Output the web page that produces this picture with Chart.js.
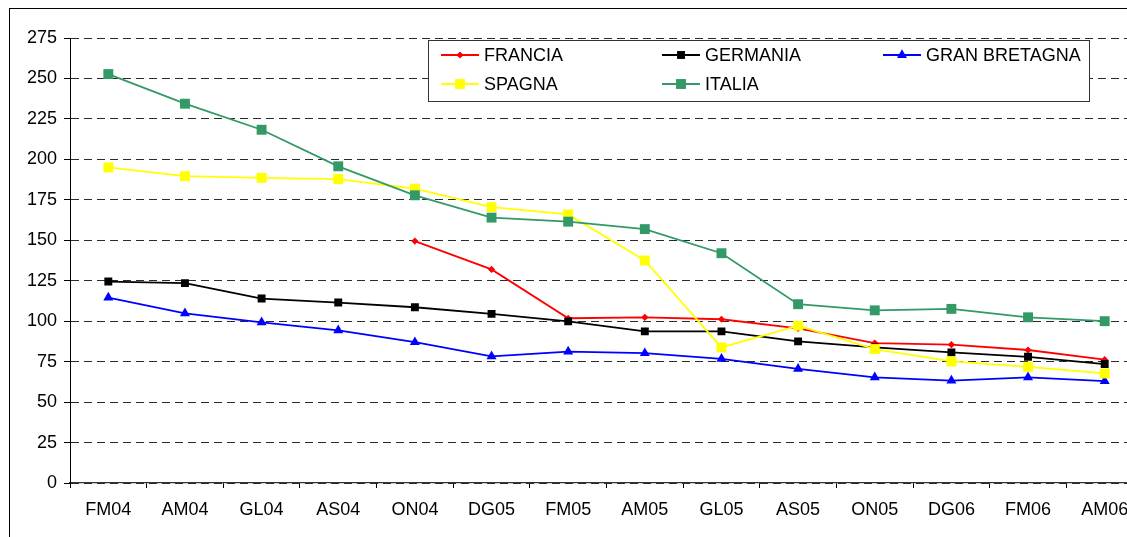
<!DOCTYPE html>
<html>
<head>
<meta charset="utf-8">
<script src="https://cdn.jsdelivr.net/npm/chart.js@4/dist/chart.umd.min.js"></script>
<style>
    html, body { margin: 0; padding: 0; background: #fff; overflow: hidden; }
    #grafico { display: block; }
</style>
</head>
<body>
<canvas id="grafico" width="1180" height="537"></canvas>
<script>

const periodi = ["FM04", "AM04", "GL04", "AS04", "ON04", "DG05", "FM05", "AM05", "GL05", "AS05", "ON05", "DG06", "FM06", "AM06"];

const francia = [null, null, null, null, 149.5, 132, 101.8, 102.4, 101.2, 95.5, 86.5, 85.5, 82.2, 76.2];
const germania = [124.5, 123.5, 114, 111.5, 108.6, 104.5, 99.9, 93.7, 93.7, 87.5, 83.8, 80.7, 78, 73.5];
const granBretagna = [114.6, 104.8, 99.3, 94.3, 87, 78.3, 81.2, 80.2, 76.7, 70.5, 65.3, 63.3, 65.3, 63];
const spagna = [195, 189.6, 188.6, 187.8, 181.9, 170.5, 166, 137.5, 83.8, 97.2, 82.8, 75.1, 71.8, 67.7];
const italia = [252.7, 234.4, 218.3, 195.7, 177.8, 164, 161.5, 156.9, 142, 110.5, 106.7, 107.6, 102.4, 100];

const yTicks = [0, 25, 50, 75, 100, 125, 150, 175, 200, 225, 250, 275];

const FONT = "'Liberation Sans', Arial, sans-serif";

function serie(label, data, color, style, radius, order) {
    return {
        label: label,
        data: data,
        borderColor: color,
        backgroundColor: color,
        pointBackgroundColor: color,
        pointBorderColor: color,
        pointBorderWidth: 0,
        pointStyle: style,
        pointRadius: radius,
        pointHoverRadius: radius,
        borderWidth: 1.8,
        tension: 0,
        spanGaps: false,
        order: order
    };
}

const datasets = [
    serie("FRANCIA", francia, "#ff0000", "rectRot", 3.6, 5),
    serie("GERMANIA", germania, "#000000", "rect", 5.6, 4),
    serie("GRAN BRETAGNA", granBretagna, "#0000ff", "triangle", 5.8, 3),
    serie("SPAGNA", spagna, "#ffff00", "rect", 7, 2),
    serie("ITALIA", italia, "#339966", "rect", 7, 1)
];

// legenda e cornice disegnate a mano
const legenda = {
    id: "legenda",
    afterDraw(chart) {
        const ctx = chart.ctx;
        ctx.save();

        ctx.strokeStyle = "#000";
        ctx.lineWidth = 1;
        ctx.strokeRect(9.5, 8.5, 3000, 3000);

        ctx.fillStyle = "#fff";
        ctx.fillRect(428.5, 40.5, 661, 61);
        ctx.strokeStyle = "#333";
        ctx.strokeRect(428.5, 40.5, 661, 61);

        const colX = [441, 662, 883];
        const rowY = [55, 84];

        chart.data.datasets.forEach((ds, i) => {
            const x = colX[i % 3];
            const y = rowY[Math.floor(i / 3)];

            ctx.strokeStyle = ds.borderColor;
            ctx.lineWidth = 1.8;
            ctx.beginPath();
            ctx.moveTo(x, y);
            ctx.lineTo(x + 38, y);
            ctx.stroke();

            ctx.fillStyle = ds.pointBackgroundColor;
            Chart.helpers.drawPoint(ctx, {
                pointStyle: ds.pointStyle,
                radius: ds.pointRadius,
                rotation: 0,
                borderWidth: 0
            }, x + 19, y);

            ctx.fillStyle = "#000";
            ctx.font = "18px " + FONT;
            ctx.textBaseline = "middle";
            ctx.textAlign = "left";
            ctx.fillText(ds.label, x + 43, y + 1);
        });

        ctx.restore();
    }
};

new Chart(
    document.getElementById("grafico"),
    {
        type: "line",
        data: {
            labels: periodi,
            datasets: datasets
        },
        options: {
            responsive: false,
            animation: false,
            layout: {
                padding: { left: 9, top: 38, right: 37, bottom: 14 }
            },
            plugins: {
                legend: { display: false },
                tooltip: { enabled: false }
            },
            scales: {
                x: {
                    offset: true,
                    afterFit: s => { s.height = 40; },
                    grid: {
                        display: true,
                        offset: true,
                        drawOnChartArea: false,
                        drawTicks: true,
                        tickLength: 5,
                        tickColor: "#000",
                        tickBorderDash: []
                    },
                    border: { display: true, color: "#333", width: 1.2 },
                    ticks: {
                        color: "#000",
                        font: { family: FONT, size: 18 },
                        padding: 11,
                        maxRotation: 0,
                        autoSkip: false
                    }
                },
                y: {
                    min: 0,
                    max: 275,
                    afterFit: s => { s.width = 61; },
                    afterBuildTicks: s => { s.ticks = yTicks.map(v => ({ value: v })); },
                    grid: {
                        color: "#2a2a2a",
                        lineWidth: 1,
                        drawTicks: true,
                        tickLength: 6,
                        tickColor: "#000",
                        tickBorderDash: []
                    },
                    border: { display: true, color: "#000", width: 1, dash: [8, 5] },
                    ticks: {
                        color: "#000",
                        font: { family: FONT, size: 18 },
                        padding: 7
                    }
                }
            }
        },
        plugins: [legenda]
    }
);
</script>
</body>
</html>
